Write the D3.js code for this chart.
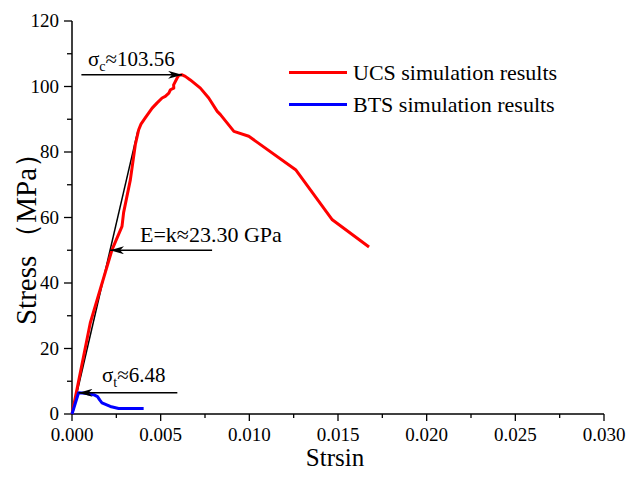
<!DOCTYPE html>
<html>
<head>
<meta charset="utf-8">
<script src="https://cdn.jsdelivr.net/npm/d3@7"></script>
<style>
  html, body { margin: 0; padding: 0; background: #fff; }
  svg { display: block; }
  text { font-family: "Liberation Serif", "Times New Roman", serif; fill: #000; }
</style>
</head>
<body>
<svg id="chart" width="627" height="480"></svg>
<script>
// Uniaxial compression (UCS) stress-strain curve
const ucsStrain = [0, 0.00103, 0.00159, 0.00226, 0.00282, 0.00291, 0.00329, 0.00357, 0.00376, 0.00389,
  0.00413, 0.00452, 0.00480, 0.00508, 0.00526, 0.00546, 0.00555, 0.00574, 0.00573, 0.00593,
  0.00602, 0.00621, 0.00639, 0.00667, 0.00724, 0.00771, 0.00819, 0.00837, 0.00913, 0.00997,
  0.01261, 0.01468, 0.01675];
const ucsStress = [0, 27.8, 38.0, 50.2, 57.3, 61.5, 71.5, 82.2, 86.8, 88.5,
  90.4, 93.4, 95.0, 96.5, 97.0, 98.0, 99.0, 99.5, 100.5, 102.6,
  103.4, 103.56, 103.1, 102.0, 99.5, 96.5, 92.4, 91.4, 86.3, 84.8,
  74.6, 59.3, 51.0];

// Brazilian tensile (BTS) stress-strain curve
const btsStrain = [0, 0.00037, 0.00075, 0.00122, 0.00144, 0.00156, 0.00169, 0.00216, 0.00263, 0.00404];
const btsStress = [0, 6.48, 6.3, 5.9, 5.3, 4.3, 3.4, 2.3, 1.7, 1.7];

// Annotated values
const ucsPeak = 103.56;          // MPa
const ucsPeakStrain = 0.00621;
const btsPeak = 6.48;            // MPa
const btsPeakStrain = 0.00037;
const modulusGPa = 23.30;        // slope of the elastic tangent
const tangentEndStress = 86.7;   // MPa, top of the drawn tangent

// Axis ticks
const xTicks = [0, 0.005, 0.010, 0.015, 0.020, 0.025, 0.030];
const xMinorTicks = [0.0025, 0.0075, 0.0125, 0.0175, 0.0225, 0.0275];
const yTicks = [0, 20, 40, 60, 80, 100, 120];
const yMinorTicks = [10, 30, 50, 70, 90, 110];

const seriesNames = ["UCS simulation results", "BTS simulation results"];
const seriesColors = ["#ff0000", "#0000ff"];

const svg = d3.select("#chart");
const plotLeft = 72, plotRight = 604, plotTop = 21, plotBottom = 414;

const x = d3.scaleLinear().domain([0, 0.030]).range([plotLeft, plotRight]);
const y = d3.scaleLinear().domain([0, 120]).range([plotBottom, plotTop]);

// ----- axes -----
const xAxis = svg.append("g").attr("transform", `translate(0,${plotBottom})`);
xAxis.append("line").attr("x1", plotLeft).attr("x2", plotRight).attr("stroke", "#000").attr("stroke-width", 1.5);
xAxis.selectAll("line.maj").data(xTicks).join("line").attr("class", "maj")
  .attr("x1", d => x(d)).attr("x2", d => x(d)).attr("y1", 0).attr("y2", 7)
  .attr("stroke", "#000").attr("stroke-width", 1.3);
xAxis.selectAll("line.min").data(xMinorTicks).join("line").attr("class", "min")
  .attr("x1", d => x(d)).attr("x2", d => x(d)).attr("y1", 0).attr("y2", 4)
  .attr("stroke", "#000").attr("stroke-width", 1.3);
xAxis.selectAll("text").data(xTicks).join("text")
  .attr("x", d => x(d)).attr("y", 27)
  .attr("text-anchor", "middle").style("font-size", "19px")
  .text(d3.format(".3f"));

const yAxis = svg.append("g").attr("transform", `translate(${plotLeft},0)`);
yAxis.append("line").attr("y1", plotTop).attr("y2", plotBottom).attr("stroke", "#000").attr("stroke-width", 1.5);
yAxis.selectAll("line.maj").data(yTicks).join("line").attr("class", "maj")
  .attr("y1", d => y(d)).attr("y2", d => y(d)).attr("x1", 0).attr("x2", -8)
  .attr("stroke", "#000").attr("stroke-width", 1.3);
yAxis.selectAll("line.min").data(yMinorTicks).join("line").attr("class", "min")
  .attr("y1", d => y(d)).attr("y2", d => y(d)).attr("x1", 0).attr("x2", -5)
  .attr("stroke", "#000").attr("stroke-width", 1.3);
yAxis.selectAll("text").data(yTicks).join("text")
  .attr("x", -13).attr("y", d => y(d)).attr("dy", "0.34em")
  .attr("text-anchor", "end").style("font-size", "19px")
  .text(d => d);

// axis titles
svg.append("text").attr("x", 335).attr("y", 466).attr("text-anchor", "middle")
  .style("font-size", "25px").text("Strsin");
const yTitle = svg.append("text").attr("transform", "translate(36,232) rotate(-90)")
  .attr("text-anchor", "middle").style("font-size", "29px");
yTitle.append("tspan").text("Stress");
yTitle.append("tspan").attr("dx", 4).text("（MPa）");

// ----- arrowhead -----
svg.append("defs").append("marker")
  .attr("id", "head").attr("viewBox", "0 0 14 8").attr("refX", 14).attr("refY", 4)
  .attr("markerUnits", "userSpaceOnUse").attr("markerWidth", 14).attr("markerHeight", 8)
  .attr("orient", "auto")
  .append("path").attr("d", "M0,0 L14,4 L0,8 L4,4 Z").attr("fill", "#000");

// ----- elastic tangent -----
const tangentEndStrain = tangentEndStress / (modulusGPa * 1000);
svg.append("line")
  .attr("x1", x(0)).attr("y1", y(0))
  .attr("x2", x(tangentEndStrain)).attr("y2", y(tangentEndStress))
  .attr("stroke", "#000").attr("stroke-width", 1.5);

// ----- curves -----
const line = d3.line().x(d => x(d[0])).y(d => y(d[1]));
const ucs = d3.zip(ucsStrain, ucsStress);
const bts = d3.zip(btsStrain, btsStress);

svg.append("path").datum(ucs).attr("d", line)
  .attr("fill", "none").attr("stroke", seriesColors[0]).attr("stroke-width", 3)
  .attr("stroke-linejoin", "round");
svg.append("path").datum(bts).attr("d", line)
  .attr("fill", "none").attr("stroke", seriesColors[1]).attr("stroke-width", 3)
  .attr("stroke-linejoin", "round");

// ----- annotation arrows -----
function arrow(x1, v1, x2, v2) {
  svg.append("line")
    .attr("x1", x(x1)).attr("y1", y(v1)).attr("x2", x(x2)).attr("y2", y(v2))
    .attr("stroke", "#000").attr("stroke-width", 1.5)
    .attr("marker-end", "url(#head)");
}
// peak compressive strength
arrow(0.00053, ucsPeak, ucsPeakStrain, ucsPeak);
// modulus on the tangent
const eArrowStress = 50;
arrow(0.00790, eArrowStress, eArrowStress / (modulusGPa * 1000), eArrowStress);
// peak tensile strength
arrow(0.00594, btsPeak, btsPeakStrain, btsPeak);

// ----- annotation labels -----
function sigmaLabel(px, py, sub, value) {
  const t = svg.append("text").attr("x", px).attr("y", py).style("font-size", "21px");
  t.append("tspan").text("σ");
  t.append("tspan").attr("dy", 5).style("font-size", "14px").text(sub);
  t.append("tspan").attr("dy", -5).text("≈" + value);
}
sigmaLabel(88, 66, "c", ucsPeak.toFixed(2));
sigmaLabel(102, 382, "t", btsPeak.toFixed(2));
svg.append("text").attr("x", 140).attr("y", 242).style("font-size", "22px")
  .text("E=k≈" + modulusGPa.toFixed(2) + " GPa");

// ----- legend -----
const legend = svg.append("g");
seriesNames.forEach((name, i) => {
  const ly = 72.5 + i * 32;
  legend.append("line").attr("x1", 289).attr("x2", 347).attr("y1", ly).attr("y2", ly)
    .attr("stroke", seriesColors[i]).attr("stroke-width", 3);
  legend.append("text").attr("x", 353).attr("y", ly).attr("dy", "0.34em")
    .style("font-size", "22px").text(name);
});
</script>
</body>
</html>
